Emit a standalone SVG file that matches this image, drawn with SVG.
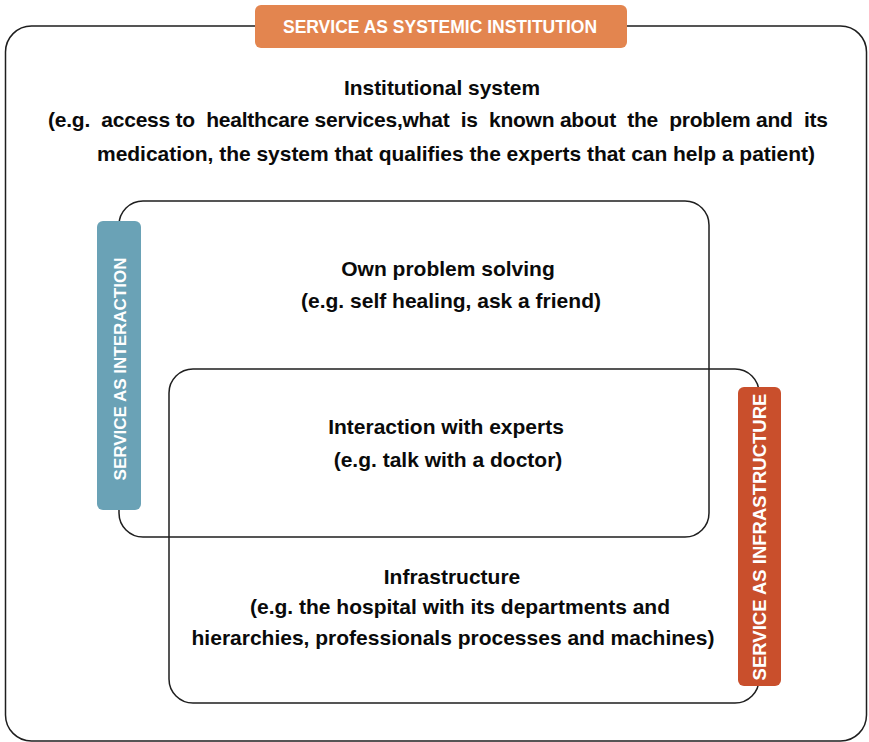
<svg xmlns="http://www.w3.org/2000/svg" width="869" height="742" viewBox="0 0 869 742">
  <style>
    .box { fill: none; stroke: #1e1e1e; stroke-width: 1.5; }
    .t { font-family: "Liberation Sans", Arial, Helvetica, sans-serif; font-weight: bold; font-size: 21px; fill: #0a0a0a; text-anchor: middle; }
    .lbl { font-family: "Liberation Sans", Arial, Helvetica, sans-serif; font-weight: bold; fill: #ffffff; text-anchor: middle; }
  </style>
  <rect width="869" height="742" fill="#ffffff"/>

  <g id="institutional-system">
    <rect class="box" x="5.5" y="26" width="861" height="715" rx="26"/>
    <text class="t" x="442" y="95" textLength="196" lengthAdjust="spacingAndGlyphs">Institutional system</text>
    <text class="t" x="438" y="127" textLength="780" lengthAdjust="spacing" xml:space="preserve">(e.g.  access to  healthcare services,what  is  known about  the  problem and  its</text>
    <text class="t" x="456" y="161" textLength="718" lengthAdjust="spacing">medication, the system that qualifies the experts that can help a patient)</text>
  </g>

  <g id="own-problem-solving">
    <rect class="box" x="119" y="201" width="590" height="336" rx="24"/>
    <text class="t" x="448" y="276">Own problem solving</text>
    <text class="t" x="451" y="308">(e.g. self healing, ask a friend)</text>
  </g>

  <g id="infrastructure">
    <rect class="box" x="169" y="369" width="590" height="334" rx="24"/>
    <text class="t" x="452" y="584">Infrastructure</text>
    <text class="t" x="460" y="614">(e.g. the hospital with its departments and</text>
    <text class="t" x="453" y="645">hierarchies, professionals processes and machines)</text>
  </g>

  <g id="interaction-with-experts">
    <text class="t" x="446" y="434">Interaction with experts</text>
    <text class="t" x="448" y="467">(e.g. talk with a doctor)</text>
  </g>

  <g id="label-systemic-institution">
    <rect x="255" y="5" width="372" height="43" rx="6" fill="#e3854f"/>
    <text class="lbl" x="440" y="33" font-size="17.5">SERVICE AS SYSTEMIC INSTITUTION</text>
  </g>

  <g id="label-interaction">
    <rect x="97" y="221" width="44" height="289" rx="6" fill="#6aa2b6"/>
    <text class="lbl" transform="translate(126 369) rotate(-90)" font-size="17">SERVICE AS INTERACTION</text>
  </g>

  <g id="label-infrastructure">
    <rect x="738" y="387" width="43" height="299" rx="6" fill="#c94f2c"/>
    <text class="lbl" transform="translate(766 537) rotate(-90)" font-size="18.5">SERVICE AS INFRASTRUCTURE</text>
  </g>

  <g id="connectors"/>
</svg>
